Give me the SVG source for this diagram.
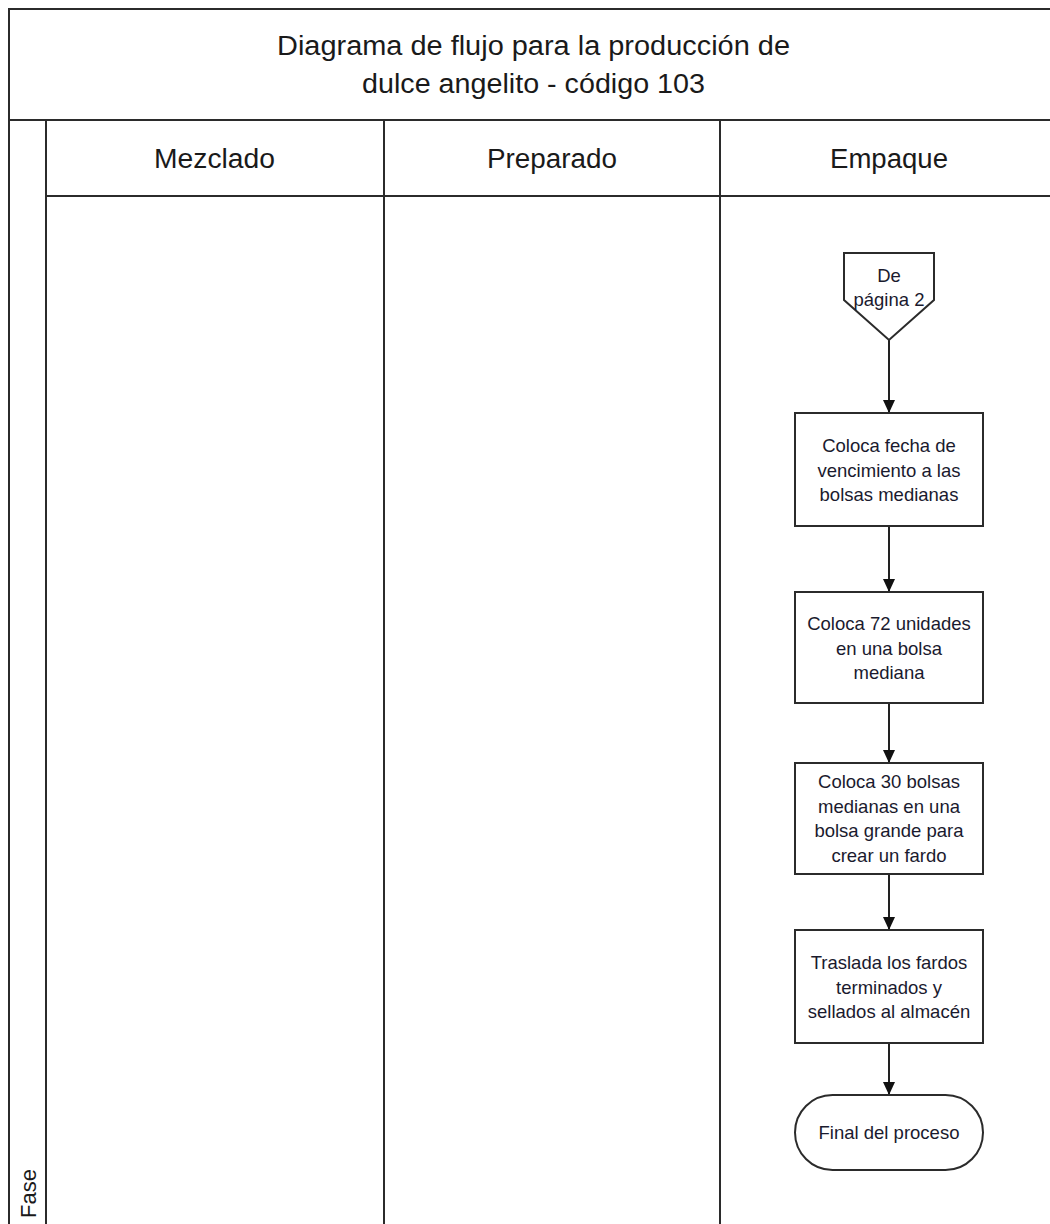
<svg xmlns="http://www.w3.org/2000/svg" width="1050" height="1224" viewBox="0 0 1050 1224">
<defs>
<style>
.ln{stroke:#2b2b2b;stroke-width:2;fill:none}
.shape{stroke:#2b2b2b;stroke-width:2;fill:#ffffff}
.big{font-family:"Liberation Sans",Arial,sans-serif;font-size:27px;fill:#1a1a1a;text-anchor:middle}
.txt{font-family:"Liberation Sans",Arial,sans-serif;font-size:18.5px;fill:#1a1a2e;text-anchor:middle}
.conn{stroke:#222;stroke-width:2;fill:none;marker-end:url(#arr)}
</style>
<marker id="arr" markerWidth="13" markerHeight="12" refX="13" refY="6" orient="auto" markerUnits="userSpaceOnUse" viewBox="0 0 13 12">
<path d="M0,0 L13,6 L0,12 Z" fill="#111"/>
</marker>
</defs>
<rect x="0" y="0" width="1050" height="1224" fill="#ffffff"/>
<g id="pool">
<path class="ln" d="M1052,9 H9 V1226"/>
<path class="ln" d="M9,120 H1052"/>
<path class="ln" d="M46,120 V1226"/>
<path class="ln" d="M46,196 H1052"/>
<path class="ln" d="M384,120 V1226"/>
<path class="ln" d="M720,120 V1226"/>
<text class="big" x="533.5" y="55" textLength="513" lengthAdjust="spacingAndGlyphs">Diagrama de flujo para la producción de</text>
<text class="big" x="533.5" y="93" textLength="343" lengthAdjust="spacingAndGlyphs">dulce angelito - código 103</text>
</g>
<g id="lane-mezclado"><text class="big" x="214.5" y="168" textLength="121" lengthAdjust="spacingAndGlyphs">Mezclado</text></g>
<g id="lane-preparado"><text class="big" x="552" y="168" textLength="130" lengthAdjust="spacingAndGlyphs">Preparado</text></g>
<g id="lane-empaque"><text class="big" x="889" y="168" textLength="118" lengthAdjust="spacingAndGlyphs">Empaque</text></g>
<g id="fase"><text font-family="Liberation Sans, Arial, sans-serif" font-size="22" fill="#1a1a1a" transform="translate(36,1218) rotate(-90)">Fase</text></g>
<g id="connectors">
<path class="conn" d="M889,340 V413"/>
<path class="conn" d="M889,526 V592"/>
<path class="conn" d="M889,703 V763"/>
<path class="conn" d="M889,874 V930"/>
<path class="conn" d="M889,1043 V1095"/>
</g>
<g id="n-offpage">
<polygon class="shape" points="844,253 934,253 934,300 889,340 844,300"/>
<text class="txt" x="889" y="282">De</text>
<text class="txt" x="889" y="306">página 2</text>
</g>
<g id="n-fecha">
<rect class="shape" x="795" y="413" width="188" height="113"/>
<text class="txt" x="889" y="452">Coloca fecha de</text>
<text class="txt" x="889" y="477">vencimiento a las</text>
<text class="txt" x="889" y="501">bolsas medianas</text>
</g>
<g id="n-unidades">
<rect class="shape" x="795" y="592" width="188" height="111"/>
<text class="txt" x="889" y="630">Coloca 72 unidades</text>
<text class="txt" x="889" y="655">en una bolsa</text>
<text class="txt" x="889" y="679">mediana</text>
</g>
<g id="n-fardo">
<rect class="shape" x="795" y="763" width="188" height="111"/>
<text class="txt" x="889" y="788">Coloca 30 bolsas</text>
<text class="txt" x="889" y="812.5">medianas en una</text>
<text class="txt" x="889" y="837">bolsa grande para</text>
<text class="txt" x="889" y="861.5">crear un fardo</text>
</g>
<g id="n-traslada">
<rect class="shape" x="795" y="930" width="188" height="113"/>
<text class="txt" x="889" y="969">Traslada los fardos</text>
<text class="txt" x="889" y="994">terminados y</text>
<text class="txt" x="889" y="1018">sellados al almacén</text>
</g>
<g id="n-final">
<rect class="shape" x="795" y="1095" width="188" height="75" rx="37.5" ry="37.5"/>
<text class="txt" x="889" y="1139">Final del proceso</text>
</g>
</svg>
